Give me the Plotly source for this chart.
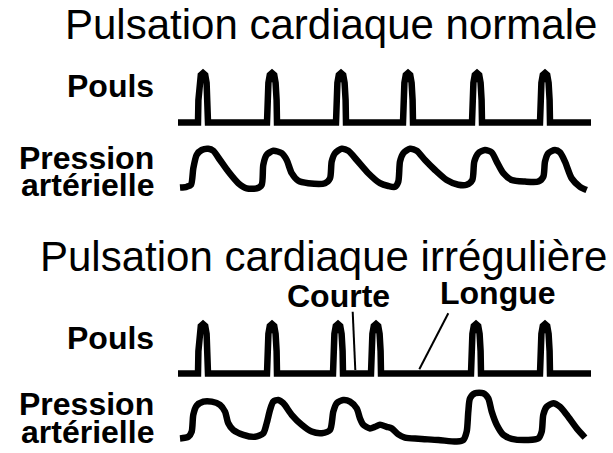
import plotly.graph_objects as go

# ---------------- data ----------------
# beat times (horizontal units) of the pulse spikes
normal_beats = [203, 272, 341, 408, 477, 545]
irregular_beats = [203, 272, 338, 376, 476, 545]
trace_start, trace_end = 178, 591

# arterial pressure, normal rhythm: time and relative amplitude
normal_t = [180, 186.7, 191, 193.3, 196.7, 201.7, 208.3, 213.3, 220, 228.3, 238.3, 246.7, 256.7,
            261.7, 263.3, 266.7, 273.3, 281.7, 286.7, 291.7, 298.3, 308.3, 325,
            330, 331.7, 335, 341.7, 348.3, 356.7, 368.3, 380, 388.3, 395,
            398.3, 400, 403.3, 410, 416.7, 425, 435, 446.7, 458.3, 466.7,
            472.3, 474.3, 478.3, 485, 491.7, 496.7, 503.3, 511.7, 525, 538.3,
            543.3, 545, 548.3, 555, 560, 565, 571.7, 580, 586.7]
normal_p = [0.01, 0.03, 0.08, 0.49, 0.83, 0.95, 0.98, 0.93, 0.70, 0.41, 0.12, -0.01, -0.01,
            0.08, 0.58, 0.83, 0.93, 0.87, 0.70, 0.37, 0.18, 0.12, 0.12,
            0.24, 0.66, 0.87, 0.98, 0.93, 0.70, 0.37, 0.12, 0.05, 0.03,
            0.16, 0.66, 0.87, 0.98, 0.93, 0.70, 0.45, 0.20, 0.08, 0.08,
            0.20, 0.66, 0.87, 0.95, 0.89, 0.66, 0.37, 0.20, 0.16, 0.16,
            0.28, 0.66, 0.87, 0.95, 0.89, 0.66, 0.24, 0.03, -0.05]

# arterial pressure, irregular rhythm
irregular_t = [180, 188.3, 191.7, 193.3, 196.7, 203.3, 211.7, 220, 225, 228.3, 233.3, 243.3, 255,
               263.3, 266.7, 270, 273.3, 278.3, 283.3, 291.7, 301.7, 311.7, 321.7,
               330, 333.3, 336.7, 343.3, 350, 356.7, 360, 363.3, 370, 375, 380, 386.7,
               391.7, 398.3, 405, 418.3, 438.3, 456.7, 463.3,
               466.7, 468.3, 470, 475, 483.3, 488.3, 491.7, 496.7, 503.3, 511.7, 528.3, 538.3,
               541.7, 543.3, 546.7, 553.3, 560, 566.7, 576.7, 585]
irregular_p = [0.04, 0.08, 0.21, 0.63, 0.86, 0.96, 0.96, 0.88, 0.71, 0.42, 0.25, 0.13, 0.08,
               0.17, 0.42, 0.75, 0.96, 1.00, 0.92, 0.63, 0.38, 0.21, 0.17,
               0.25, 0.71, 0.92, 1.00, 0.96, 0.79, 0.54, 0.38, 0.29, 0.33, 0.38, 0.33,
               0.29, 0.14, 0.06, 0.03, 0.00, -0.04, 0.00,
               0.21, 0.71, 1.04, 1.17, 1.17, 1.04, 0.71, 0.38, 0.13, 0.03, 0.00, 0.04,
               0.21, 0.63, 0.83, 0.92, 0.83, 0.63, 0.29, 0.06]

title_normal = "Pulsation cardiaque normale"
title_irregular = "Pulsation cardiaque irrégulière"
label_pulse = "Pouls"
label_pressure_1 = "Pression"
label_pressure_2 = "artérielle"
label_short = "Courte"
label_long = "Longue"

# ---------------- layout parameters ----------------
W, H = 613, 453
LW = 6.5
FONT = "Liberation Sans, Arial, sans-serif"
spike_dx = [-5, -4.6, -3.6, -2.2, 0, 2.2, 3.6, 4.6, 5]
spike_h = [0, 0.45, 0.8, 0.96, 1, 0.96, 0.8, 0.45, 0]
spike_height = 49.5
pressure_scale = 40


def pulse_path(beats, base):
    xs, ys = [trace_start], [base]
    for b in beats:
        for dx, h in zip(spike_dx, spike_h):
            xs.append(b + dx)
            ys.append(base - h * spike_height)
    xs.append(trace_end)
    ys.append(base)
    return xs, ys


fig = go.Figure()

rows = [
    (normal_beats, 122.5, normal_t, normal_p, 188),
    (irregular_beats, 373.5, irregular_t, irregular_p, 440),
]
for beats, pbase, t, p, prbase in rows:
    xs, ys = pulse_path(beats, pbase)
    fig.add_trace(go.Scatter(x=xs, y=ys, mode="lines",
                             line=dict(color="black", width=LW), hoverinfo="skip"))
    fig.add_trace(go.Scatter(x=t, y=[prbase - v * pressure_scale for v in p], mode="lines",
                             line=dict(color="black", width=LW, shape="spline", smoothing=0.7),
                             hoverinfo="skip"))

# pointer lines for Courte / Longue
fig.add_trace(go.Scatter(x=[352.7, 355.3], y=[311.7, 370], mode="lines",
                         line=dict(color="black", width=2), hoverinfo="skip"))
fig.add_trace(go.Scatter(x=[448.3, 419.3], y=[313.3, 369.3], mode="lines",
                         line=dict(color="black", width=2), hoverinfo="skip"))

ann = []


def add_text(txt, x, y, size, bold=False, xanchor="center"):
    ann.append(dict(text=(f"<b>{txt}</b>" if bold else txt), x=x, y=y, xref="x", yref="y",
                    xanchor=xanchor, yanchor="middle", showarrow=False,
                    font=dict(family=FONT, size=size, color="black")))


BOLD = 32
add_text(title_normal, 331, 24, 42)
add_text(title_irregular, 323, 256, 42)
add_text(label_pulse, 156, 86, BOLD, True, "right")
add_text(label_pressure_1, 156, 158, BOLD, True, "right")
add_text(label_pressure_2, 156, 185, BOLD, True, "right")
add_text(label_pulse, 156, 338, BOLD, True, "right")
add_text(label_pressure_1, 156, 404, BOLD, True, "right")
add_text(label_pressure_2, 156, 432, BOLD, True, "right")
add_text(label_short, 338, 296, BOLD, True)
add_text(label_long, 498, 293, BOLD, True)

fig.update_layout(
    width=W, height=H, margin=dict(l=0, r=0, t=0, b=0),
    paper_bgcolor="white", plot_bgcolor="white", showlegend=False,
    xaxis=dict(range=[0, W], visible=False, fixedrange=True),
    yaxis=dict(range=[H, 0], visible=False, fixedrange=True),
    annotations=ann,
)
fig.write_html("out.html", post_script="document.body.style.margin='0';",
               config={"displayModeBar": False})
